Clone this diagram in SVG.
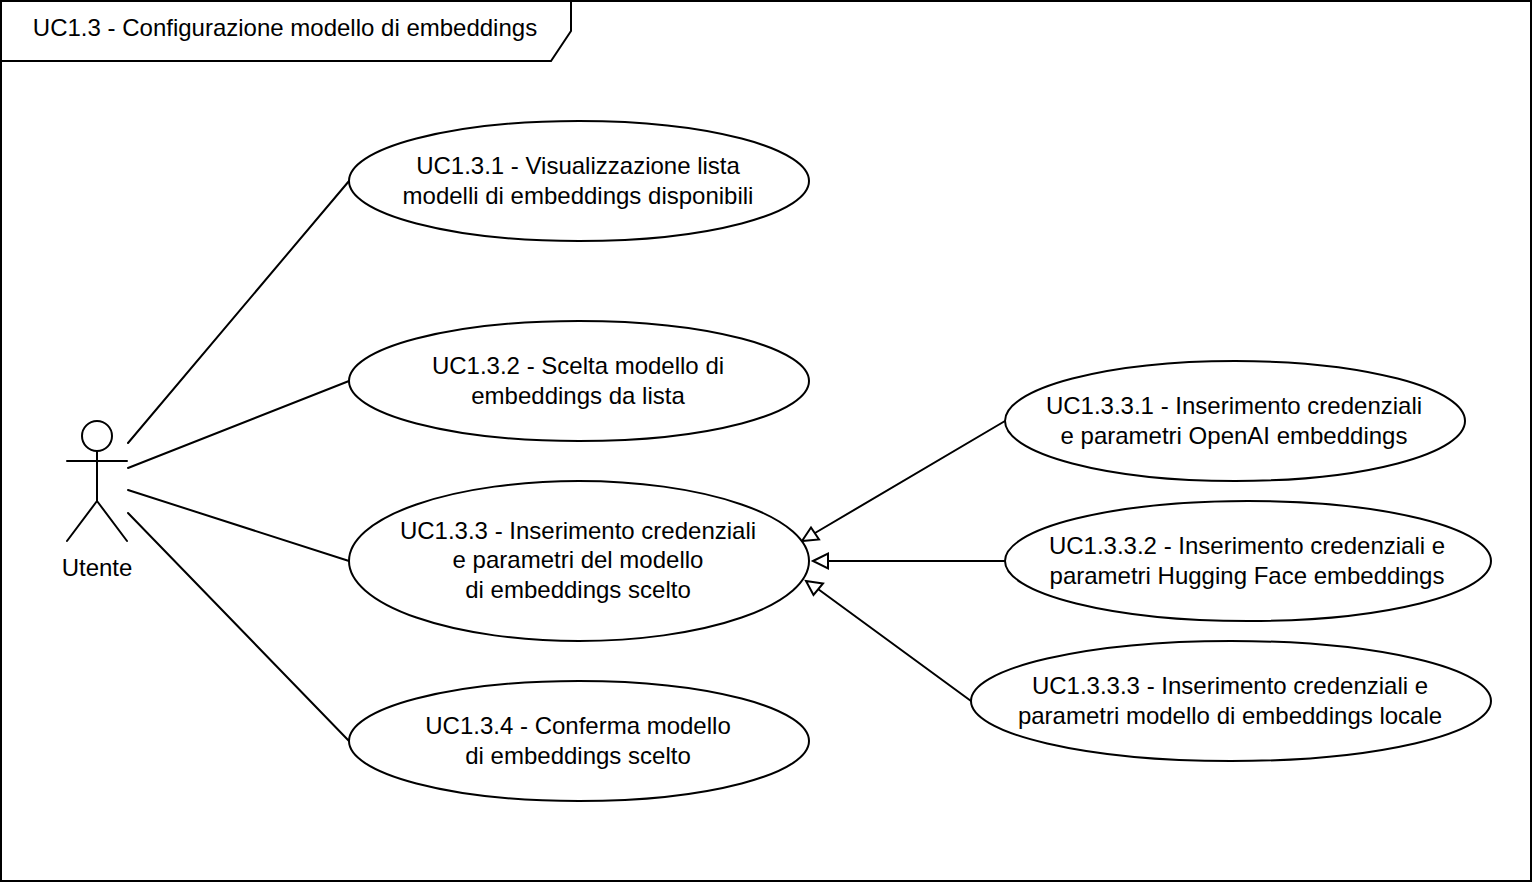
<svg xmlns="http://www.w3.org/2000/svg" width="1534" height="884" viewBox="0 0 1534 884">
<defs>
<style>
.s{fill:none;stroke:#000;stroke-width:2;stroke-linecap:round;stroke-linejoin:round}
.e{fill:#fff;stroke:#000;stroke-width:2}
.h{fill:#fff;stroke:#000;stroke-width:2;stroke-miterlimit:10}
text{font-family:"Liberation Sans",Arial,sans-serif;font-size:24px;fill:#000;text-anchor:middle}
</style>
</defs>
<rect width="1534" height="884" fill="#fff"/>
<g id="frame">
<rect x="1" y="1" width="1530" height="880" fill="#fff" stroke="#000" stroke-width="2"/>
<path d="M1 1H571V31L551 61H1Z" fill="#fff" stroke="#000" stroke-width="2" stroke-linejoin="miter"/>
<text x="285" y="36">UC1.3 - Configurazione modello di embeddings</text>
</g>
<g id="connectors">
<path class="s" d="M128 443L349 181M128 468L349 381M128 490L349 561M128 513L349 741"/>
<path class="s" d="M1005 421L815 533M1005 561H828M971 701L818 589"/>
<path class="h" d="M802 541L811 527.500L819 539.500Z"/>
<path class="h" d="M813 561L828 553.500V568.500Z"/>
<path class="h" d="M806 581L823 583.500L813.500 595Z"/>
</g>
<g id="actor">
<circle cx="97" cy="436" r="15" fill="#fff" stroke="#000" stroke-width="2"/>
<path class="s" d="M97 451V501M67 461H127M67 541L97 501L127 541"/>
<text x="97" y="576">Utente</text>
</g>
<g id="uc131"><ellipse class="e" cx="579" cy="181" rx="230" ry="60"/><text x="578" y="174">UC1.3.1 - Visualizzazione lista</text><text x="578" y="204">modelli di embeddings disponibili</text></g>
<g id="uc132"><ellipse class="e" cx="579" cy="381" rx="230" ry="60"/><text x="578" y="374">UC1.3.2 - Scelta modello di</text><text x="578" y="404">embeddings da lista</text></g>
<g id="uc133"><ellipse class="e" cx="579" cy="561" rx="230" ry="80"/><text x="578" y="539">UC1.3.3 - Inserimento credenziali</text><text x="578" y="568">e parametri del modello</text><text x="578" y="598">di embeddings scelto</text></g>
<g id="uc134"><ellipse class="e" cx="579" cy="741" rx="230" ry="60"/><text x="578" y="734">UC1.3.4 - Conferma modello</text><text x="578" y="764">di embeddings scelto</text></g>
<g id="uc1331"><ellipse class="e" cx="1235" cy="421" rx="230" ry="60"/><text x="1234" y="414">UC1.3.3.1 - Inserimento credenziali</text><text x="1234" y="444">e parametri OpenAI embeddings</text></g>
<g id="uc1332"><ellipse class="e" cx="1248" cy="561" rx="243" ry="60"/><text x="1247" y="554">UC1.3.3.2 - Inserimento credenziali e</text><text x="1247" y="584">parametri Hugging Face embeddings</text></g>
<g id="uc1333"><ellipse class="e" cx="1231" cy="701" rx="260" ry="60"/><text x="1230" y="694">UC1.3.3.3 - Inserimento credenziali e</text><text x="1230" y="724">parametri modello di embeddings locale</text></g>
</svg>
